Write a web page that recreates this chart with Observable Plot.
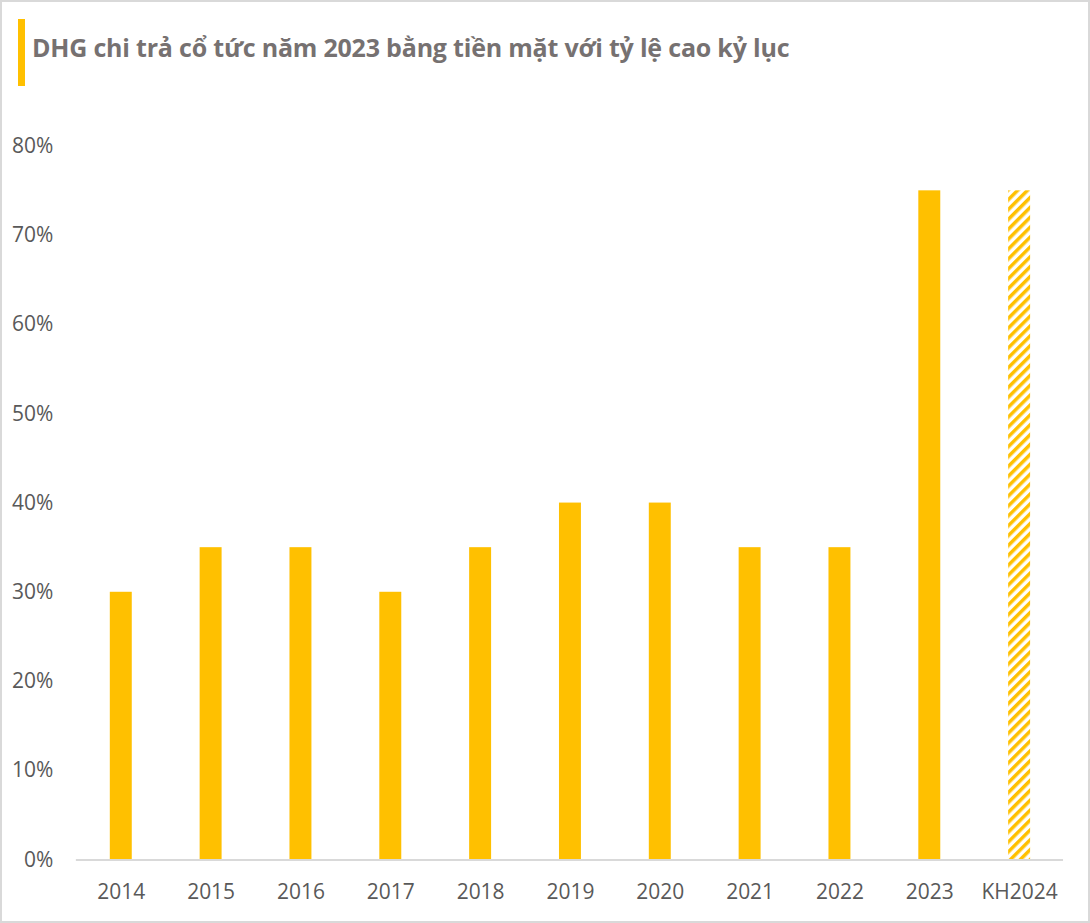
<!DOCTYPE html>
<html>
<head>
<meta charset="utf-8">
<script src="https://cdn.jsdelivr.net/npm/d3@7"></script>
<script src="https://cdn.jsdelivr.net/npm/@observablehq/plot@0.6"></script>
<style>
  html, body { margin: 0; padding: 0; background: #fff; }
  #wrap { position: relative; width: 1090px; height: 923px; box-sizing: border-box; border: 2px solid #d9d9d9; overflow: hidden; }
  #bar { position: absolute; left: 16px; top: 17px; width: 7px; height: 67px; background: #FFC000; }
  #title { position: absolute; left: 30px; top: 28px; font-family: "Open Sans", sans-serif; font-weight: bold; font-size: 25px; color: #767171; white-space: nowrap; letter-spacing: -0.2px; }
  #chart { position: absolute; left: -2px; top: -2px; }
</style>
</head>
<body>
<div id="wrap">
  <div id="bar"></div>
  <div id="title">DHG chi trả cổ tức năm 2023 bằng tiền mặt với tỷ lệ cao kỷ lục</div>
  <div id="chart"></div>
</div>
<script>
const years = ["2014","2015","2016","2017","2018","2019","2020","2021","2022","2023","KH2024"];
const ratios = [0.30,0.35,0.35,0.30,0.35,0.40,0.40,0.35,0.35,0.75,0.75];
const planned = [false,false,false,false,false,false,false,false,false,false,true];
const yTicks = [0,0.1,0.2,0.3,0.4,0.5,0.6,0.7,0.8];

const data = years.map((y, i) => ({year: y, value: ratios[i], plan: planned[i]}));

const font = "'Open Sans', sans-serif";

const svg = Plot.plot({
  width: 1090,
  height: 923,
  marginTop: 146,
  marginBottom: 62,
  marginLeft: 76,
  marginRight: 25,
  style: {fontFamily: font, fontSize: "21px", color: "#595959", background: "transparent"},
  x: {domain: years, paddingInner: 0.76, paddingOuter: 0.37, label: null, tickSize: 0, tickPadding: 24},
  y: {domain: [0, 0.8], ticks: yTicks, tickFormat: d => Math.round(d * 100) + "%", label: null, tickSize: 0, tickPadding: 23},
  marks: [
    Plot.barY(data.filter(d => !d.plan), {x: "year", y: "value", fill: "#FFC000"}),
    Plot.barY(data.filter(d => d.plan), {x: "year", y: "value", fill: "url(#hatch)"}),
    Plot.ruleY([0], {stroke: "#d9d9d9", strokeWidth: 2})
  ]
});

const defs = d3.select(svg).insert("defs", ":first-child");
const pat = defs.append("pattern")
  .attr("id", "hatch")
  .attr("patternUnits", "userSpaceOnUse")
  .attr("width", 7).attr("height", 7)
  .attr("patternTransform", "rotate(45)");
pat.append("rect").attr("width", 7).attr("height", 7).attr("fill", "#fff");
pat.append("rect").attr("x", 0).attr("y", 0).attr("width", 3.5).attr("height", 7).attr("fill", "#FFC000");

d3.selectAll(svg.querySelectorAll("text")).attr("fill", "#595959");
document.getElementById("chart").appendChild(svg);
</script>
</body>
</html>
